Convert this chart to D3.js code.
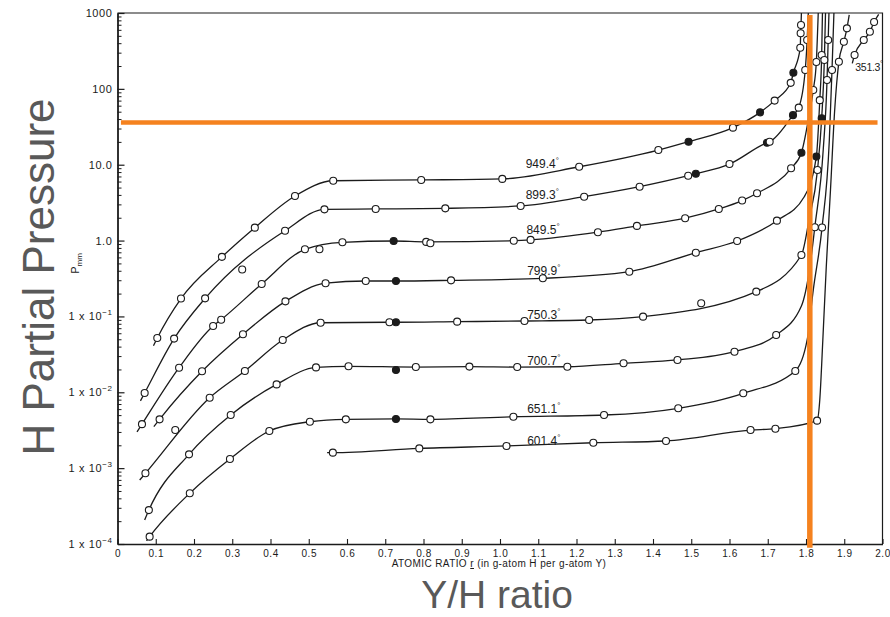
<!DOCTYPE html>
<html>
<head>
<meta charset="utf-8">
<script src="https://cdn.jsdelivr.net/npm/d3@7"></script>
<style>
  body { margin: 0; background: #fff; }
  svg { display: block; }
</style>
</head>
<body>
<div id="chart"></div>
<script>
// isotherm points: [atomic ratio, P in mm, mark]
// mark: 0 = curve only, 1 = open circle, 2 = filled circle, 3 = open circle off the curve, 4 = filled off the curve
const iso949 = [
  [0.094, 0.041, 0], [0.104, 0.052, 1], [0.166, 0.172, 1], [0.273, 0.61, 1], [0.359, 1.48, 1],
  [0.464, 3.87, 1], [0.564, 6.15, 1], [0.794, 6.3, 1], [1.006, 6.5, 1], [1.207, 9.4, 1],
  [1.414, 15.6, 1], [1.493, 20.1, 2], [1.609, 30.8, 1], [1.680, 49, 2], [1.718, 70, 1],
  [1.760, 120, 1], [1.767, 163, 2], [1.785, 349, 1], [1.786, 540, 1], [1.787, 695, 1], [1.788, 1000, 0]
]
const iso899 = [
  [0.060, 0.0077, 0], [0.071, 0.0098, 1], [0.148, 0.051, 1], [0.229, 0.173, 1], [0.326, 0.416, 3],
  [0.438, 1.35, 1], [0.541, 2.58, 1], [0.675, 2.61, 1], [0.857, 2.66, 1], [1.054, 2.86, 1],
  [1.220, 3.79, 1], [1.365, 5.13, 1], [1.492, 7.16, 1], [1.512, 7.6, 2], [1.600, 10.2, 1],
  [1.698, 19.5, 2], [1.705, 20.1, 1], [1.766, 45, 2], [1.781, 56.5, 1], [1.798, 177, 1],
  [1.803, 441, 1], [1.806, 1000, 0]
]
const iso849 = [
  [0.051, 0.0030, 0], [0.064, 0.0038, 1], [0.161, 0.0211, 1], [0.250, 0.0748, 1], [0.271, 0.0906, 1],
  [0.377, 0.268, 1], [0.490, 0.767, 1], [0.528, 0.767, 3], [0.588, 0.949, 1], [0.722, 0.987, 2],
  [0.807, 0.96, 1], [0.818, 0.92, 3], [1.036, 0.996, 1], [1.080, 1.02, 1], [1.256, 1.29, 1],
  [1.358, 1.56, 1], [1.484, 1.97, 1], [1.572, 2.61, 1], [1.633, 3.37, 1], [1.672, 4.2, 1],
  [1.761, 8.97, 1], [1.788, 14.4, 2], [1.806, 38.8, 0], [1.819, 96.6, 1], [1.827, 226, 1], [1.832, 1000, 0]
]
const iso799 = [
  [0.095, 0.00352, 0], [0.110, 0.0044, 1], [0.221, 0.0189, 1], [0.328, 0.0582, 1], [0.439, 0.158, 1],
  [0.544, 0.274, 1], [0.649, 0.293, 1], [0.728, 0.293, 2], [0.872, 0.299, 1], [1.112, 0.318, 1],
  [1.338, 0.389, 1], [1.512, 0.692, 1], [1.620, 0.987, 1], [1.724, 1.83, 1], [1.795, 3.75, 0],
  [1.827, 12.8, 2], [1.836, 71, 1], [1.841, 279, 1], [1.843, 1000, 0]
]
const iso750 = [
  [0.058, 0.000698, 0], [0.073, 0.000855, 1], [0.151, 0.00318, 3], [0.241, 0.00849, 1], [0.333, 0.0191, 1],
  [0.432, 0.0489, 1], [0.531, 0.0826, 1], [0.711, 0.0838, 1], [0.728, 0.0838, 2], [0.888, 0.0853, 1],
  [1.064, 0.0871, 1], [1.233, 0.0897, 1], [1.374, 0.0993, 1], [1.526, 0.149, 3], [1.670, 0.212, 1],
  [1.788, 0.645, 1], [1.808, 1.87, 0], [1.830, 8.5, 1], [1.841, 41, 2], [1.848, 240, 1], [1.851, 1000, 0]
]
const iso700 = [
  [0.071, 0.000207, 0], [0.082, 0.00028, 1], [0.187, 0.00152, 1], [0.296, 0.00502, 1], [0.416, 0.0127, 1],
  [0.519, 0.0213, 1], [0.604, 0.0220, 1], [0.728, 0.0197, 4], [0.780, 0.0215, 1], [0.920, 0.0218, 1],
  [1.045, 0.0215, 1], [1.176, 0.0217, 1], [1.323, 0.0241, 1], [1.464, 0.0267, 1], [1.613, 0.0343, 1],
  [1.722, 0.0569, 1], [1.788, 0.137, 0], [1.809, 0.41, 0], [1.823, 1.5, 1], [1.845, 15.6, 0],
  [1.855, 131, 1], [1.858, 441, 1], [1.860, 1000, 0]
]
const iso651 = [
  [0.076, 0.00011, 0], [0.084, 0.000125, 1], [0.189, 0.000467, 1], [0.294, 0.00132, 1], [0.397, 0.00309, 1],
  [0.503, 0.00409, 1], [0.597, 0.0044, 1], [0.728, 0.00445, 2], [0.818, 0.0044, 1], [1.035, 0.00476, 1],
  [1.272, 0.00502, 1], [1.466, 0.00615, 1], [1.636, 0.0097, 1], [1.772, 0.0191, 1], [1.803, 0.0489, 0],
  [1.819, 0.223, 0], [1.842, 1.49, 1], [1.861, 21.2, 0], [1.868, 177, 1], [1.873, 1000, 0]
]
const iso601 = [
  [0.548, 0.0016, 0], [0.563, 0.0016, 1], [0.789, 0.00182, 1], [1.017, 0.00196, 1], [1.244, 0.00216, 1],
  [1.434, 0.00228, 1], [1.655, 0.00318, 1], [1.720, 0.00331, 1], [1.829, 0.00423, 1], [1.836, 0.00792, 0],
  [1.844, 0.0489, 0], [1.853, 0.453, 0], [1.864, 4.64, 0], [1.875, 52.6, 0], [1.886, 228, 1],
  [1.899, 418, 1], [1.907, 628, 1], [1.913, 942, 0]
]
const iso351 = [
  [1.921, 217, 0], [1.927, 279, 1], [1.951, 441, 1], [1.967, 567, 1], [1.978, 760, 1], [1.990, 960, 0]
]

const isotherms = [iso949, iso899, iso849, iso799, iso750, iso700, iso651, iso601, iso351]
const tempLabels = ["949.4", "899.3", "849.5", "799.9", "750.3", "700.7", "651.1", "601.4", "351.3"]
// label anchor in data units [ratio, P]
const labelAt = [
  [1.067, 9.06], [1.067, 3.53], [1.069, 1.22], [1.071, 0.357], [1.071, 0.0925],
  [1.071, 0.0229], [1.071, 0.00533], [1.071, 0.00202], [1.929, 170]
]

const xTicks = d3.range(0, 21).map(i => i / 10)
const yMajor = [1e-4, 1e-3, 1e-2, 1e-1, 1, 10, 100, 1000]
const yMajorText = [["1 x 10", "−4"], ["1 x 10", "−3"], ["1 x 10", "−2"], ["1 x 10", "−1"],
  ["1.0", ""], ["10.0", ""], ["100", ""], ["1000", ""]]

// orange guide lines
const guideX = 1.81
const guideP = 36

const width = 890
const height = 617
const margin = ({ top: 13, right: 7.5, bottom: 73, left: 117.5 })

const x = d3.scaleLinear()
  .domain([0, 2])
  .range([margin.left, width - margin.right])

const y = d3.scaleLog()
  .domain([1e-4, 1000])
  .range([height - margin.bottom, margin.top])

const yMinor = []
yMajor.slice(0, -1).forEach(d => { for (let k = 2; k < 10; k++) yMinor.push(d * k) })

const ink = "#1b1b1b"
const font = "'Liberation Sans', Arial, sans-serif"

const svg = d3.select("#chart")
  .append("svg")
  .attr("width", width)
  .attr("height", height)
  .style("background", "#fff")

// frame top + right
svg.append("path")
  .attr("d", `M${x(0)},${y(1000)}H${x(2)}V${y(1e-4)}`)
  .attr("fill", "none")
  .attr("stroke", ink)
  .attr("stroke-width", 1.2)

const xAxis = g => g
  .attr("transform", `translate(0,${y(1e-4)})`)
  .call(d3.axisBottom(x).tickValues(xTicks).tickSizeInner(-5).tickSizeOuter(0).tickPadding(6)
    .tickFormat(d => d === 0 ? "0" : d3.format(".1f")(d)))
  .call(g => g.select(".domain").attr("stroke", ink).attr("stroke-width", 1.5))
  .call(g => g.selectAll(".tick line").attr("stroke", ink).attr("stroke-width", 1.1))
  .call(g => g.selectAll("text").attr("fill", ink).attr("font-size", 10)
    .attr("font-family", font).attr("letter-spacing", 0.5))

const yAxis = g => g
  .attr("transform", `translate(${x(0)},0)`)
  .call(d3.axisLeft(y).tickValues(yMajor).tickSizeInner(-7).tickSizeOuter(0).tickPadding(5).tickFormat(""))
  .call(g => g.select(".domain").attr("stroke", ink).attr("stroke-width", 1.8))
  .call(g => g.selectAll(".tick line").attr("stroke", ink).attr("stroke-width", 1.2))
  .call(g => g.selectAll(".tick text").each(function (d, i) {
    const t = d3.select(this)
      .attr("fill", ink).attr("font-size", 11).attr("font-family", font).attr("letter-spacing", 0.6)
    t.append("tspan").text(yMajorText[i][0])
    if (yMajorText[i][1]) t.append("tspan").attr("dy", -5).attr("font-size", 8).text(yMajorText[i][1])
  }))

const yMinorAxis = g => g
  .attr("transform", `translate(${x(0)},0)`)
  .call(d3.axisLeft(y).tickValues(yMinor).tickSizeInner(-4).tickSizeOuter(0).tickFormat(""))
  .call(g => g.select(".domain").remove())
  .call(g => g.selectAll(".tick line").attr("stroke", ink).attr("stroke-width", 1))

svg.append("g").call(yMinorAxis)
svg.append("g").call(yAxis)
svg.append("g").call(xAxis)

// axis titles of the scan
svg.append("text")
  .attr("x", 499)
  .attr("y", y(1e-4) + 23)
  .attr("text-anchor", "middle")
  .attr("font-family", font)
  .attr("font-size", 10)
  .attr("letter-spacing", 0.4)
  .attr("fill", ink)
  .call(t => {
    t.append("tspan").text("ATOMIC RATIO ")
    t.append("tspan").attr("text-decoration", "underline").text("r")
    t.append("tspan").text(" (in g-atom H per g-atom Y)")
  })

svg.append("text")
  .attr("transform", `translate(79,${y(0.5)}) rotate(-90)`)
  .attr("text-anchor", "middle")
  .attr("font-family", font)
  .attr("font-size", 11)
  .attr("fill", ink)
  .call(t => {
    t.append("tspan").text("P")
    t.append("tspan").attr("dy", 3).attr("font-size", 8).text("mm")
  })

// curves
const line = d3.line()
  .x(d => x(d[0]))
  .y(d => y(d[1]))
  .curve(d3.curveMonotoneX)

svg.append("g")
  .attr("fill", "none")
  .attr("stroke", ink)
  .attr("stroke-width", 1.3)
  .selectAll("path")
  .data(isotherms)
  .join("path")
  .attr("d", d => line(d.filter(p => p[2] < 3)))

svg.append("g")
  .attr("stroke", ink)
  .attr("stroke-width", 1.1)
  .selectAll("circle")
  .data(isotherms.flat().filter(p => p[2] > 0))
  .join("circle")
  .attr("cx", d => x(d[0]))
  .attr("cy", d => y(d[1]))
  .attr("r", 3.5)
  .attr("fill", d => d[2] === 2 || d[2] === 4 ? ink : "#fff")

// temperature labels
svg.append("g")
  .attr("font-family", font)
  .attr("fill", ink)
  .selectAll("text")
  .data(tempLabels)
  .join("text")
  .attr("x", (d, i) => x(labelAt[i][0]))
  .attr("y", (d, i) => y(labelAt[i][1]))
  .attr("font-size", (d, i) => i === tempLabels.length - 1 ? 10.5 : 12)
  .attr("letter-spacing", (d, i) => i === tempLabels.length - 1 ? -0.3 : 0)
  .call(t => {
    t.append("tspan").text(d => d)
    t.append("tspan").attr("dy", -5).attr("font-size", 8).text("°")
  })

// orange guide lines
svg.append("line")
  .attr("x1", x(0.009)).attr("x2", x(1.987))
  .attr("y1", y(guideP)).attr("y2", y(guideP))
  .attr("stroke", "#F5821F")
  .attr("stroke-width", 4.5)

svg.append("line")
  .attr("x1", x(guideX)).attr("x2", x(guideX))
  .attr("y1", y(940)).attr("y2", y(10 ** -4.05))
  .attr("stroke", "#F5821F")
  .attr("stroke-width", 5.5)

// slide captions
svg.append("text")
  .attr("transform", `translate(54,277) rotate(-90)`)
  .attr("text-anchor", "middle")
  .attr("font-family", font)
  .attr("font-size", 44)
  .attr("fill", "#595959")
  .text("H Partial Pressure")

svg.append("text")
  .attr("x", 497)
  .attr("y", 608)
  .attr("text-anchor", "middle")
  .attr("font-family", font)
  .attr("font-size", 39)
  .attr("fill", "#595959")
  .text("Y/H ratio")
</script>
</body>
</html>
